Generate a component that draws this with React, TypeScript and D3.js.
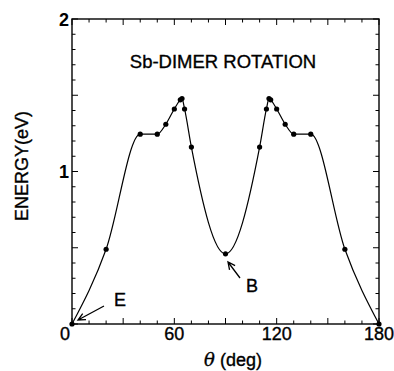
import React from 'react';
import * as d3 from 'd3';

// rotation angle (deg) and energy (eV)
const theta = [0, 20, 40, 50, 55, 60, 63.5, 64.5, 66, 70, 90, 110, 114, 115.5, 116.5, 120, 125, 130, 140, 160, 180];
const energy = [0, 0.49, 1.245, 1.245, 1.31, 1.41, 1.47, 1.478, 1.41, 1.16, 0.46, 1.16, 1.41, 1.478, 1.47, 1.41, 1.31, 1.245, 1.245, 0.49, 0];

const xTickLabels = [0, 60, 120, 180];
const yTickLabels = [1, 2];

const W = 394;
const H = 371;
const FONT = '"Liberation Sans", Arial, Helvetica, sans-serif';

const App: React.FC = () => {
    const x = d3.scaleLinear().domain([0, 180]).range([72, 379]);
    const y = d3.scaleLinear().domain([0, 2]).range([324, 19]);

    const pts: [number, number][] = theta.map((t, i) => [t, energy[i]]);

    const line = d3.line<[number, number]>()
        .x(d => x(d[0]))
        .y(d => y(d[1]))
        .curve(d3.curveMonotoneX);

    const xTicks = d3.range(0, 181, 10);
    const yTicks = d3.range(0, 21, 1).map(v => v / 10);

    // open arrow head
    const arrow = (x1: number, y1: number, x2: number, y2: number) => {
        const a = Math.atan2(y2 - y1, x2 - x1);
        const len = 8;
        const spread = Math.PI / 7;
        const p1 = [x2 - len * Math.cos(a - spread), y2 - len * Math.sin(a - spread)];
        const p2 = [x2 - len * Math.cos(a + spread), y2 - len * Math.sin(a + spread)];
        return `M${x1},${y1}L${x2},${y2}M${p1[0]},${p1[1]}L${x2},${y2}L${p2[0]},${p2[1]}`;
    };

    const ink = { fill: '#000', stroke: '#000', strokeWidth: 0.35 };

    return (
        <svg width={W} height={H} style={{ position: 'absolute', left: 0, top: 0, background: '#fff' }}
            fontFamily={FONT}>
            {/* frame */}
            <rect x={x(0)} y={y(2)} width={x(180) - x(0)} height={y(0) - y(2)}
                fill="none" stroke="#000" strokeWidth={1.4} />

            {/* x ticks, top and bottom */}
            {xTicks.map(t => {
                const len = t % 30 === 0 ? 6 : 3.5;
                return (
                    <g key={'xt' + t} stroke="#000" strokeWidth={1}>
                        <line x1={x(t)} x2={x(t)} y1={y(0)} y2={y(0) - len} />
                        <line x1={x(t)} x2={x(t)} y1={y(2)} y2={y(2) + len} />
                    </g>
                );
            })}

            {/* y ticks, left and right */}
            {yTicks.map(v => {
                const len = Math.round(v * 10) % 5 === 0 ? 6 : 3.5;
                return (
                    <g key={'yt' + v} stroke="#000" strokeWidth={1}>
                        <line x1={x(0)} x2={x(0) + len} y1={y(v)} y2={y(v)} />
                        <line x1={x(180)} x2={x(180) - len} y1={y(v)} y2={y(v)} />
                    </g>
                );
            })}

            {/* tick labels */}
            {xTickLabels.map(t => (
                <text key={'xl' + t} x={t === 0 ? x(t) - 7 : x(t)} y={340} textAnchor="middle"
                    fontSize={18} {...ink}>{t}</text>
            ))}
            {yTickLabels.map(v => (
                <text key={'yl' + v} x={69} y={y(v) + 6.5} textAnchor="end"
                    fontSize={18} fontWeight="bold" fill="#000">{v}</text>
            ))}

            {/* axis titles */}
            <text transform="translate(28,166) rotate(-90)" textAnchor="middle" fontSize={18} {...ink}>
                ENERGY(eV)
            </text>
            <text x={233} y={366} textAnchor="middle" fontSize={18} {...ink}>
                <tspan fontStyle="italic" fontFamily='"DejaVu Serif", serif'>θ</tspan> (deg)
            </text>

            {/* title */}
            <text x={223} y={68} textAnchor="middle" fontSize={18.5} {...ink}>Sb-DIMER ROTATION</text>

            {/* curve */}
            <path d={line(pts) || ''} fill="none" stroke="#000" strokeWidth={1.2} />
            {pts.map((d, i) => (
                <circle key={'p' + i} cx={x(d[0])} cy={y(d[1])} r={2.6} fill="#000" />
            ))}

            {/* annotations */}
            <path d={arrow(104, 306, 78, 320)} fill="none" stroke="#000" strokeWidth={1.3} />
            <text x={114} y={306} fontSize={18} {...ink}>E</text>
            <path d={arrow(240, 278, 228, 262)} fill="none" stroke="#000" strokeWidth={1.3} />
            <text x={246} y={292} fontSize={18} {...ink}>B</text>
        </svg>
    );
};

export default App;
